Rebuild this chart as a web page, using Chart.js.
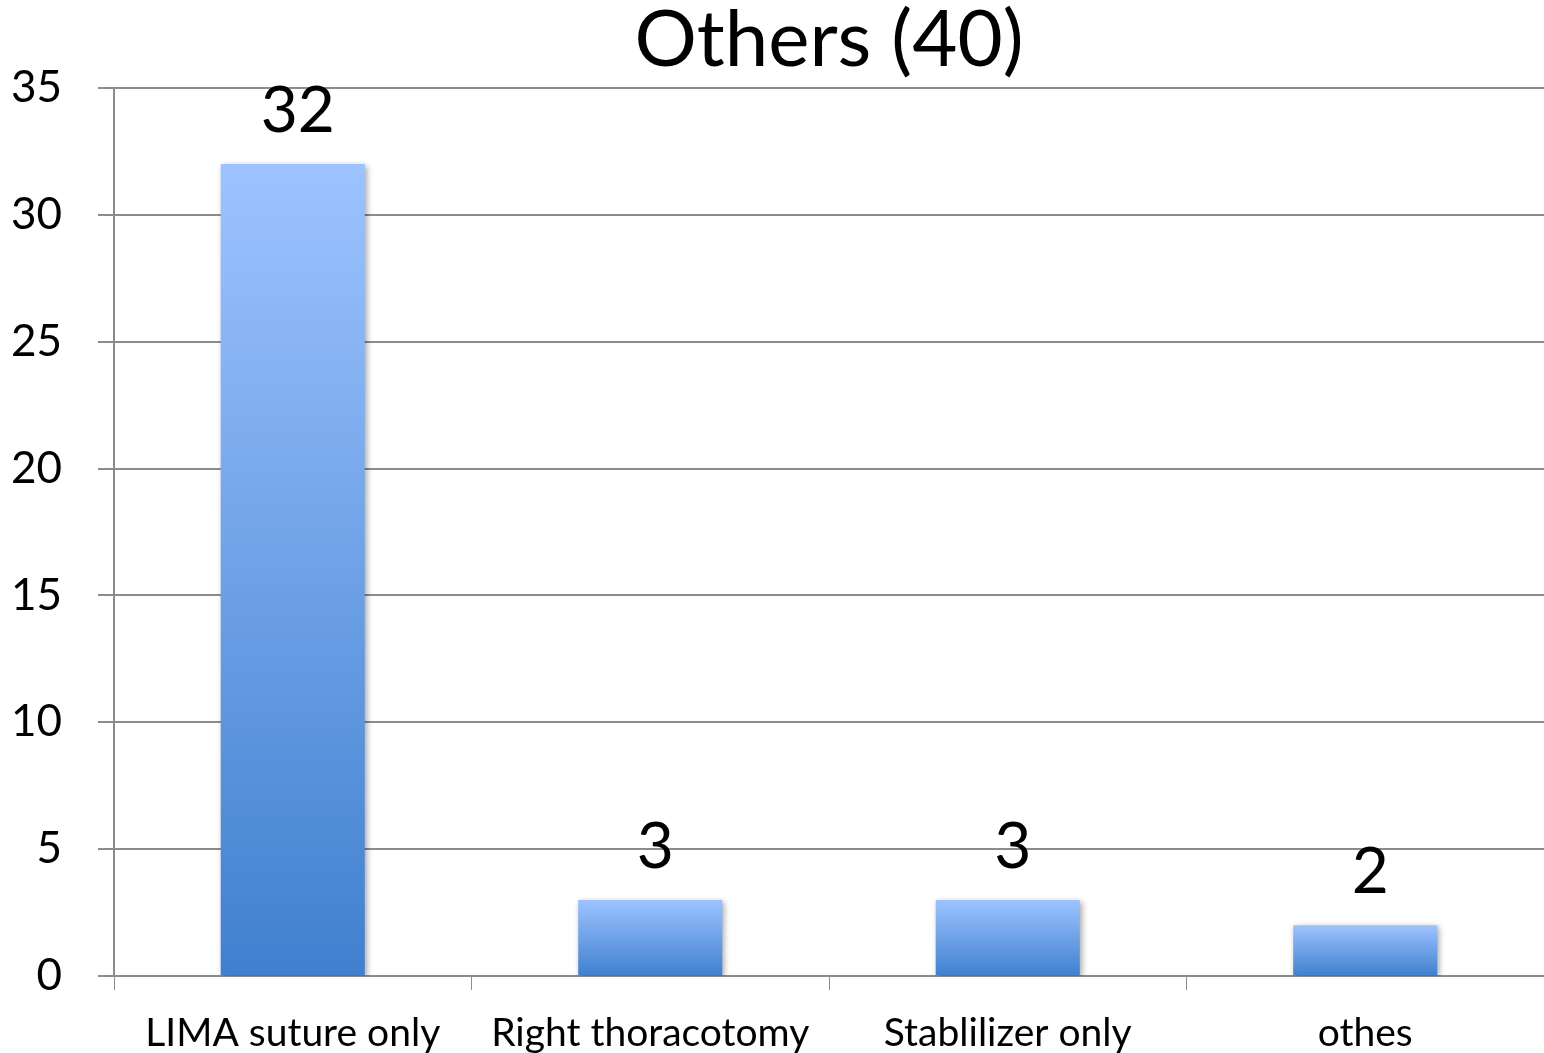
<!DOCTYPE html>
<html>
<head>
<meta charset="utf-8">
<script src="https://cdn.jsdelivr.net/npm/chart.js@4"></script>
<style>
  html, body { margin: 0; padding: 0; background: #fff; }
  #wrap { width: 1544px; height: 1053px; }
</style>
</head>
<body>
<div id="wrap"><canvas id="chart" width="1544" height="1053"></canvas></div>
<script>
const categories = ['LIMA suture only', 'Right thoracotomy', 'Stablilizer only', 'othes'];
const counts = [32, 3, 3, 2];
const yTicks = [0, 5, 10, 15, 20, 25, 30, 35];
const chartTitle = 'Others (40)';

const FONT = 'Lato, "Open Sans", sans-serif';
const GRID = '#8c8c8c';

// vertical gradient per bar, light on top, darker at the base
function barFill(context) {
  const chart = context.chart;
  if (!chart.chartArea || !chart.scales.y) return '#7aa7ea';
  const y = chart.scales.y;
  const top = y.getPixelForValue(context.parsed ? context.parsed.y : counts[context.dataIndex]);
  const bottom = y.getPixelForValue(0);
  if (!isFinite(top) || !isFinite(bottom) || top === bottom) return '#7aa7ea';
  const g = chart.ctx.createLinearGradient(0, top, 0, bottom);
  g.addColorStop(0, '#9dc3ff');
  g.addColorStop(1, '#4080cf');
  return g;
}

// soft drop shadow behind the bars
const barShadow = {
  id: 'barShadow',
  beforeDatasetsDraw(chart) {
    const ctx = chart.ctx;
    ctx.save();
    ctx.shadowColor = 'rgba(0,0,0,0.35)';
    ctx.shadowBlur = 6;
    ctx.shadowOffsetX = 2;
    ctx.shadowOffsetY = 2;
  },
  afterDatasetsDraw(chart) {
    chart.ctx.restore();
  }
};

// value labels above bars
const valueLabels = {
  id: 'valueLabels',
  afterDatasetsDraw(chart) {
    const ctx = chart.ctx;
    const meta = chart.getDatasetMeta(0);
    ctx.save();
    ctx.font = '64px ' + FONT;
    ctx.fillStyle = '#000';
    ctx.textAlign = 'center';
    ctx.textBaseline = 'alphabetic';
    meta.data.forEach((bar, i) => {
      ctx.fillText(String(counts[i]), bar.x + 5, bar.y - 32);
    });
    ctx.restore();
  }
};

new Chart(document.getElementById('chart').getContext('2d'), {
  type: 'bar',
  data: {
    labels: categories,
    datasets: [{
      data: counts,
      backgroundColor: barFill,
      borderWidth: 0,
      categoryPercentage: 1,
      barPercentage: 0.403
    }]
  },
  options: {
    responsive: false,
    animation: false,
    layout: { padding: { left: 0, right: 0, top: 0, bottom: 0 } },
    plugins: {
      legend: { display: false },
      tooltip: { enabled: false },
      title: {
        display: true,
        fullSize: false,
        text: chartTitle,
        color: '#000',
        font: { family: FONT, size: 78, weight: 'normal', lineHeight: 1.0 },
        padding: { top: 2, bottom: 8 }
      }
    },
    scales: {
      x: {
        grid: {
          display: true,
          drawOnChartArea: false,
          drawTicks: true,
          tickLength: 14,
          color: GRID,
          offset: true
        },
        border: { display: true, color: GRID, width: 2 },
        ticks: {
          color: '#000',
          font: { family: FONT, size: 39 },
          padding: 20,
          maxRotation: 0,
          autoSkip: false
        },
        afterFit(scale) { scale.height = 77; }
      },
      y: {
        min: 0,
        max: 35,
        afterBuildTicks(scale) { scale.ticks = yTicks.map(v => ({ value: v })); },
        grid: {
          color: GRID,
          lineWidth: 2,
          drawTicks: true,
          tickLength: 16
        },
        border: { display: true, color: GRID, width: 2 },
        ticks: {
          color: '#000',
          font: { family: FONT, size: 44 },
          padding: 36
        },
        afterFit(scale) { scale.width = 114; }
      }
    }
  },
  plugins: [barShadow, valueLabels]
});
</script>
</body>
</html>
